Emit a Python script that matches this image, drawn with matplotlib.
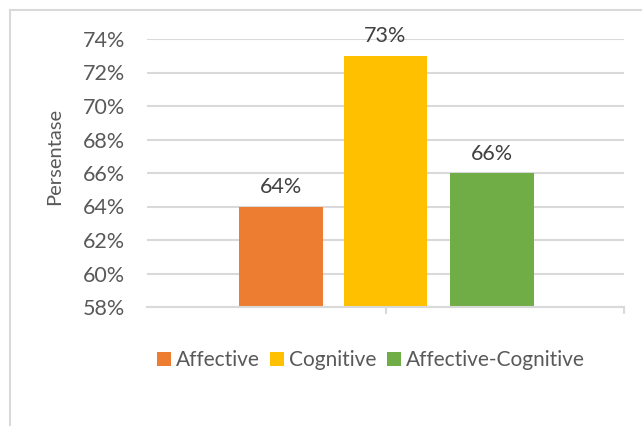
import matplotlib.pyplot as plt
from matplotlib.patches import Rectangle
from matplotlib.ticker import FuncFormatter, MultipleLocator

plt.rcParams["font.family"] = ["Lato", "DejaVu Sans"]

# chart data
categories = ["Affective", "Cognitive", "Affective-Cognitive"]
values = [64, 73, 66]
colors = ["#ED7D31", "#FFC000", "#70AD47"]
bar_offsets = [-0.44, 0.0, 0.445]
y_ticks = [58, 60, 62, 64, 66, 68, 70, 72, 74]

TEXT = "#595959"
GRID = "#D9D9D9"

W, H = 642, 426
fig = plt.figure(figsize=(W / 100, H / 100), dpi=100)
ax = fig.add_axes([147 / W, 1 - 307 / H, (624 - 147) / W, (307 - 39) / H])

for cat, val, col, off in zip(categories, values, colors, bar_offsets):
    ax.bar(1 + off, val - y_ticks[0], bottom=y_ticks[0], width=0.352,
           color=col, label=cat, zorder=3)
    ax.text(1 + off, val + 1.15, f"{val}%", ha="center", va="center",
            fontsize=15.5, color="#404040")

ax.set_xlim(0, 2)
ax.set_ylim(y_ticks[0], y_ticks[-1])
ax.yaxis.set_major_locator(MultipleLocator(2))
ax.yaxis.set_major_formatter(FuncFormatter(lambda v, _: f"{v:.0f}%"))
ax.grid(axis="y", color=GRID, linewidth=1.5, zorder=0)

for side in ["top", "right", "left"]:
    ax.spines[side].set_visible(False)
ax.spines["bottom"].set_color(GRID)
ax.spines["bottom"].set_linewidth(1.5)
ax.spines["bottom"].set_zorder(4)

ax.set_xticks([1, 2])
ax.set_xticklabels([])
ax.tick_params(axis="x", length=5, width=1.5, color=GRID)
ax.tick_params(axis="y", length=0, pad=16, labelsize=15.5, labelcolor=TEXT)

fig.text(55 / W, 1 - 156 / H, "Persentase", rotation=90, ha="center",
         va="center", fontsize=14.5, color=TEXT)

fig.legend(loc="center", bbox_to_anchor=(371 / W, 1 - 360 / H), ncol=3,
           frameon=False, fontsize=15, labelcolor=TEXT, handlelength=0.65,
           handleheight=0.65, handletextpad=0.25, columnspacing=0.5)

# outer chart border
fig.patches.append(Rectangle((9.5 / W, -0.2), 1.2, 1.2 - 10 / H,
                             transform=fig.transFigure, fill=False,
                             edgecolor=GRID, linewidth=1.5))

fig.savefig("out.png", dpi=100)
